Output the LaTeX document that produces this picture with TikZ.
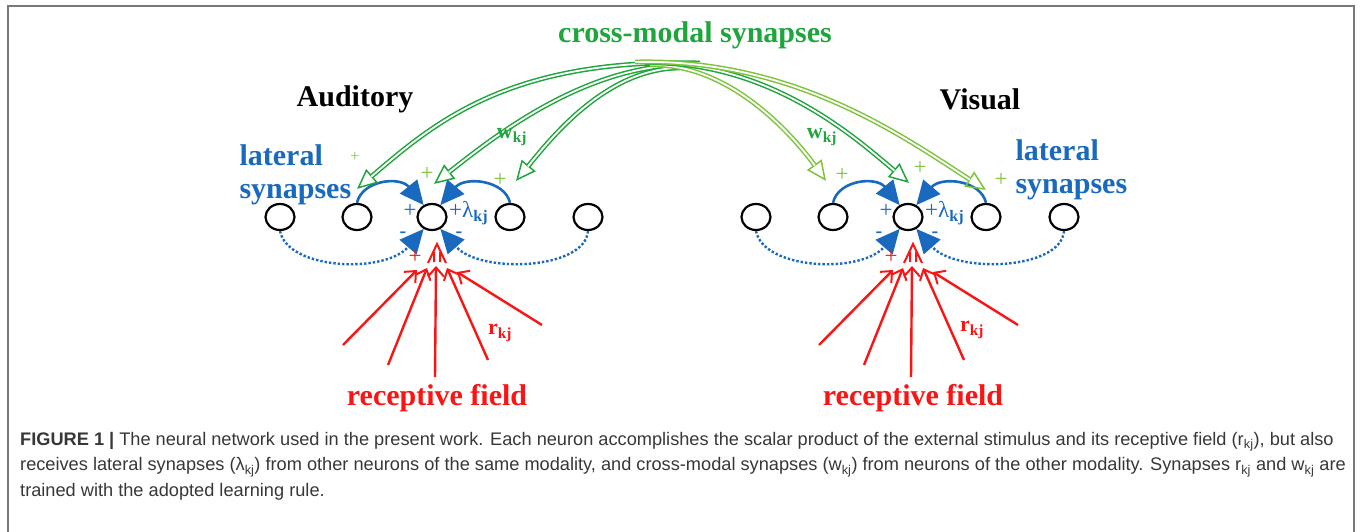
\documentclass[tikz,border=0pt]{standalone}
\usepackage{fontspec}
\setmainfont{Liberation Serif}
\setsansfont{Liberation Sans}
\usetikzlibrary{shapes.geometric, arrows.meta, positioning}

\definecolor{latblue}{RGB}{25,105,190}
\definecolor{crossdark}{RGB}{30,165,60}
\definecolor{crosslight}{RGB}{125,195,60}
\definecolor{fieldred}{RGB}{250,20,20}
\definecolor{capgray}{RGB}{55,55,55}
\definecolor{framegray}{RGB}{120,120,120}

\begin{document}
\begin{tikzpicture}[x=1pt, y=-1pt,
    neuron/.style={draw, ellipse, line width=2.2pt, minimum width=29pt, minimum height=26pt, inner sep=0pt},
    title/.style={font=\fontsize{30}{33}\selectfont\bfseries},
    sign/.style={font=\fontsize{23}{23}\selectfont, inner sep=0pt},
    minus/.style={font=\fontsize{20}{20}\selectfont\bfseries, inner sep=0pt, text height=3pt, text depth=0pt, text=latblue},
    lateral/.style={latblue, line width=2.6pt, -{Triangle[length=24pt, width=22pt]}},
    inhib/.style={latblue, line width=2.4pt, dotted, -{Triangle[length=24pt, width=22pt]}},
    input/.style={fieldred, line width=2.4pt, -{Straight Barb[length=9pt, width=16pt, line width=2pt]}},
    cross/.style={line width=1.5pt, -{Triangle[open, length=20pt, width=18pt]},
        postaction={draw, -, double, double distance=1.8pt, shorten >=19pt}}]
    \useasboundingbox (0,0) rectangle (1360,532);
    \draw[framegray, line width=2pt] (8,532) -- (8,6) -- (1354,6) -- (1354,532);

    % titles
    \node[title] (auditory) at (355,99) {Auditory};
    \node[title] (visual) at (980,99) {Visual};
    \node[title, text=crossdark] (crossmodal) at (695,35) {cross-modal synapses};
    \node[title, text=latblue, align=left, anchor=west] (latA) at (236,175) {lateral\\synapses};
    \node[title, text=latblue, align=left, anchor=west] (latV) at (1012,170) {lateral\\synapses};

    % neurons of the two layers
    \node[neuron] (aud1) at (280,217) {};
    \node[neuron] (aud2) at (357,217) {};
    \node[neuron] (aud3) at (432,217) {};
    \node[neuron] (aud4) at (510,217) {};
    \node[neuron] (aud5) at (588,217) {};
    \node[neuron] (vis1) at (756,217) {};
    \node[neuron] (vis2) at (833,217) {};
    \node[neuron] (vis3) at (908,217) {};
    \node[neuron] (vis4) at (986,217) {};
    \node[neuron] (vis5) at (1064,217) {};

    % lateral synapses
    \draw[lateral] (aud2.north) .. controls (362,180) and (400,176) .. (aud3.125);
    \draw[lateral] (aud4.north) .. controls (505,180) and (465,176) .. (aud3.55);
    \draw[inhib] (aud1.south) .. controls (288,270) and (385,274) .. (aud3.235);
    \draw[inhib] (aud5.south) .. controls (585,270) and (480,274) .. (aud3.305);
    \draw[lateral] (vis2.north) .. controls (838,180) and (876,176) .. (vis3.125);
    \draw[lateral] (vis4.north) .. controls (981,180) and (941,176) .. (vis3.55);
    \draw[inhib] (vis1.south) .. controls (764,270) and (861,274) .. (vis3.235);
    \draw[inhib] (vis5.south) .. controls (1061,270) and (956,274) .. (vis3.305);

    \node[sign, text=latblue] (plusA) at (410,211) {+};
    \node[sign, text=latblue, anchor=west] (lamA) at (449,213) {+λ\textsubscript{\bfseries kj}};
    \node[minus] (minA1) at (403,236) {-};
    \node[minus] (minA2) at (459,236) {-};
    \node[sign, text=latblue] (plusV) at (886,211) {+};
    \node[sign, text=latblue, anchor=west] (lamV) at (925,213) {+λ\textsubscript{\bfseries kj}};
    \node[minus] (minV1) at (879,236) {-};
    \node[minus] (minV2) at (935,236) {-};

    % cross-modal synapses
    \coordinate (apex) at (670,63);
    \draw[cross, crossdark] ([xshift=30pt]apex) .. controls (510,58) and (435,122) .. ([yshift=14pt]aud2.north);
    \draw[cross, crossdark] ([xshift=20pt, yshift=-2pt]apex) .. controls (585,63) and (490,140) .. ([xshift=2pt, yshift=19pt]aud3.north);
    \draw[cross, crossdark] ([xshift=10pt, yshift=-5pt]apex) .. controls (605,68) and (548,142) .. ([xshift=6pt, yshift=22pt]aud4.north);
    \draw[cross, crosslight] ([xshift=-20pt, yshift=-2pt]apex) .. controls (735,63) and (800,145) .. ([xshift=-7pt, yshift=22pt]vis2.north);
    \draw[cross, crossdark] ([xshift=-25pt]apex) .. controls (770,60) and (858,140) .. ([xshift=1pt, yshift=20pt]vis3.north);
    \draw[cross, crosslight] ([xshift=-35pt, yshift=1pt]apex) .. controls (795,58) and (905,138) .. ([yshift=13pt]vis4.north);

    \node[sign, text=crosslight, font=\fontsize{16}{16}\selectfont] (plusA1) at (355,157) {+};
    \node[sign, text=crosslight] (plusA2) at (427,174) {+};
    \node[sign, text=crosslight] (plusA3) at (500,180) {+};
    \node[sign, text=crosslight] (plusV1) at (842,175) {+};
    \node[sign, text=crosslight] (plusV2) at (920,168) {+};
    \node[sign, text=crosslight] (plusV3) at (1001,180) {+};
    \node[sign, text=crossdark, font=\fontsize{22}{22}\selectfont\bfseries] (wA) at (512,137) {w\textsubscript{kj}};
    \node[sign, text=crossdark, font=\fontsize{22}{22}\selectfont\bfseries] (wV) at (822,137) {w\textsubscript{kj}};

    % receptive fields
    \coordinate (inA) at (437,270);
    \coordinate (inV) at (913,270);
    \draw[input] (343,345) -- ([xshift=-20pt]inA);
    \draw[input] (388,365) -- ([xshift=-10pt, yshift=2pt]inA);
    \draw[input] (435,377) -- ([xshift=-1pt, yshift=4pt]inA);
    \draw[input] (488,360) -- ([xshift=10pt, yshift=2pt]inA);
    \draw[input] (542,325) -- ([xshift=20pt, yshift=-2pt]inA);
    \draw[input] (819,345) -- ([xshift=-20pt]inV);
    \draw[input] (864,365) -- ([xshift=-10pt, yshift=2pt]inV);
    \draw[input] (911,377) -- ([xshift=-1pt, yshift=4pt]inV);
    \draw[input] (964,360) -- ([xshift=10pt, yshift=2pt]inV);
    \draw[input] (1018,325) -- ([xshift=20pt, yshift=-2pt]inV);

    \draw[fieldred, line width=2pt] (428,263) -- (437,244) -- (446,263) (434,252) -- (434,262) (440,252) -- (440,262);
    \draw[fieldred, line width=2pt] (904,263) -- (913,244) -- (922,263) (910,252) -- (910,262) (916,252) -- (916,262);
    \node[sign, text=fieldred] (plusRA) at (415,257) {+};
    \node[sign, text=fieldred] (plusRV) at (891,257) {+};
    \node[sign, text=fieldred, font=\fontsize{22}{22}\selectfont\bfseries] (rA) at (500,333) {r\textsubscript{kj}};
    \node[sign, text=fieldred, font=\fontsize{22}{22}\selectfont\bfseries] (rV) at (972,330) {r\textsubscript{kj}};
    \node[title, text=fieldred] (fieldA) at (437,398) {receptive field};
    \node[title, text=fieldred] (fieldV) at (913,398) {receptive field};

    % caption
    \node[anchor=north west, align=left, inner sep=0pt, text=capgray, font=\sffamily\fontsize{18.2}{25.5}\selectfont] (caption) at (20,432)
        {\textbf{FIGURE 1 |} The neural network used in the present work. Each neuron accomplishes the scalar product of the external stimulus and its receptive field (r\textsubscript{kj}), but also\\
        receives lateral synapses (λ\textsubscript{kj}) from other neurons of the same modality, and cross-modal synapses (w\textsubscript{kj}) from neurons of the other modality. Synapses r\textsubscript{kj} and w\textsubscript{kj} are\\
        trained with the adopted learning rule.};
\end{tikzpicture}
\end{document}
